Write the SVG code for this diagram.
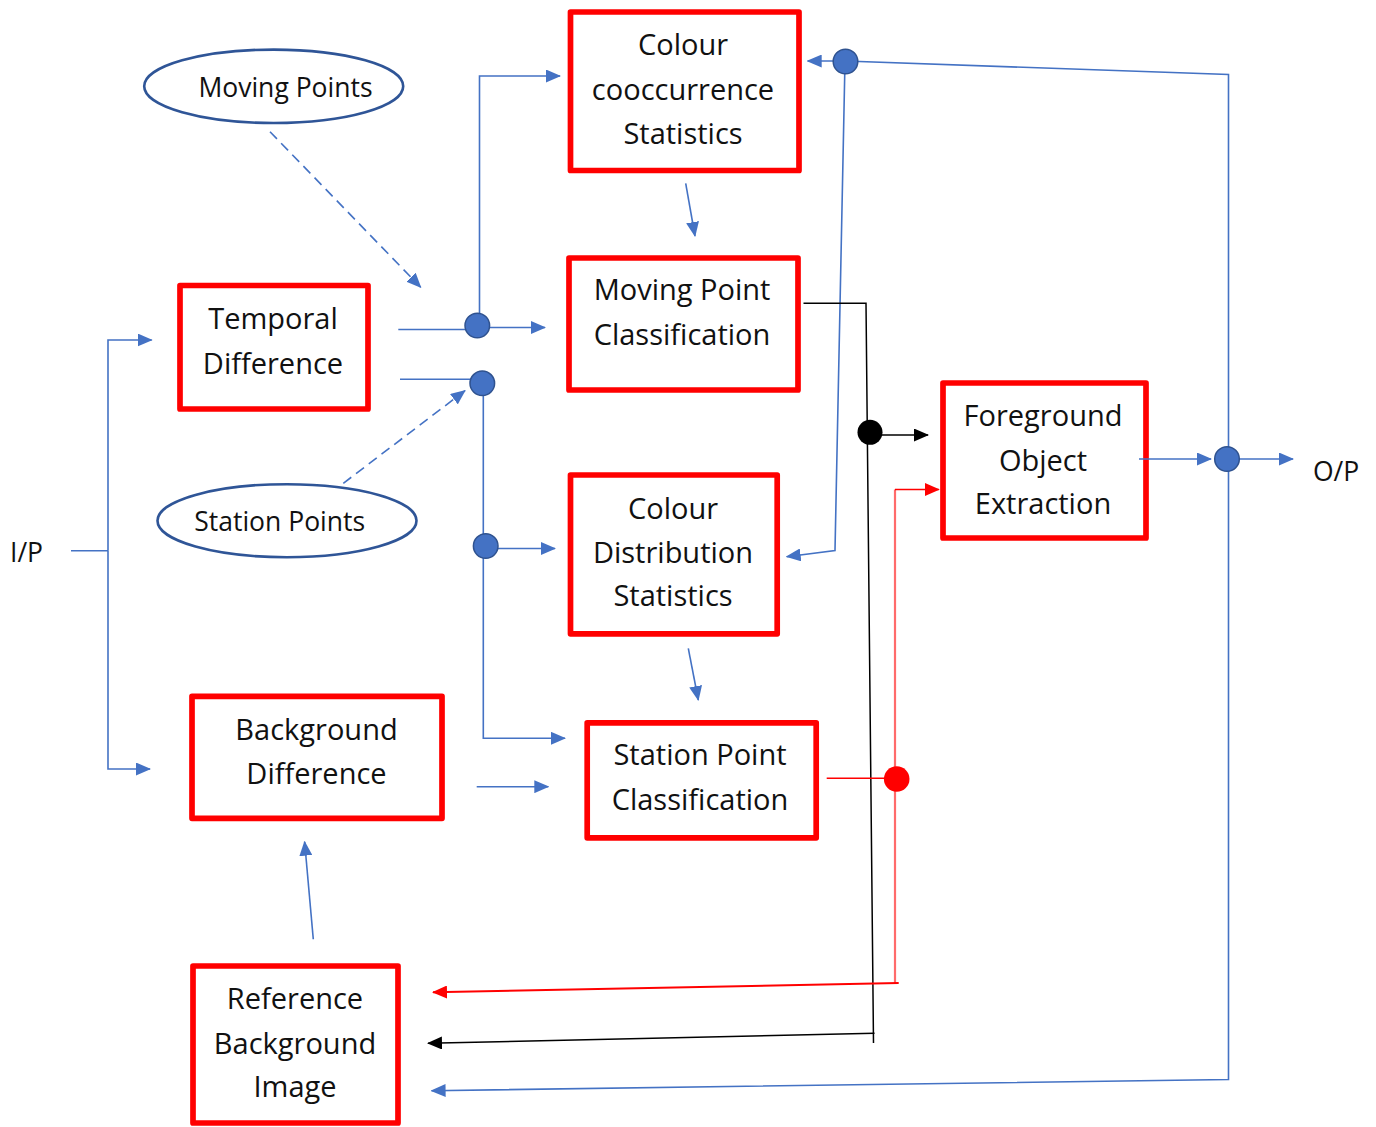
<svg xmlns="http://www.w3.org/2000/svg" width="1376" height="1127" viewBox="0 0 1376 1127">
  <style>
    .box{fill:#fff;stroke:#ff0000;stroke-width:5.7;stroke-linejoin:round}
    .ell{fill:#fff;stroke:#2f5597;stroke-width:2.6}
    .lbl{font-family:"Open Sans","Noto Sans","DejaVu Sans",sans-serif;font-size:29px;fill:#111;text-anchor:middle}
    .sm{font-size:26.5px}
    .io{font-family:"Open Sans","Noto Sans","DejaVu Sans",sans-serif;font-size:26.5px;fill:#111}
    .b{fill:none;stroke:#4472c4;stroke-width:1.6}
    .dash{stroke-dasharray:10 6}
    .k{fill:none;stroke:#000;stroke-width:1.5}
    .r{fill:none;stroke:#ff0000;stroke-width:1.6}
    .rl{fill:none;stroke:#ff6b6b;stroke-width:2.2}
    .dotb{fill:#4472c4;stroke:#2f528f;stroke-width:1.5}
  </style>
  <defs>
    <marker id="ab" markerUnits="userSpaceOnUse" viewBox="0 0 15 13" markerWidth="15" markerHeight="13" refX="14" refY="6.5" orient="auto">
      <path d="M0,0 L15,6.5 L0,13 z" fill="#4472c4"/>
    </marker>
    <marker id="ak" markerUnits="userSpaceOnUse" viewBox="0 0 15 13" markerWidth="15" markerHeight="13" refX="14" refY="6.5" orient="auto">
      <path d="M0,0 L15,6.5 L0,13 z" fill="#000"/>
    </marker>
    <marker id="ar" markerUnits="userSpaceOnUse" viewBox="0 0 15 13" markerWidth="15" markerHeight="13" refX="14" refY="6.5" orient="auto">
      <path d="M0,0 L15,6.5 L0,13 z" fill="#ff0000"/>
    </marker>
  </defs>

  <rect width="1376" height="1127" fill="#fff"/>

  <!-- processing blocks -->
  <g id="colour-cooccurrence">
    <rect class="box" x="570.5" y="12" width="228.5" height="158.5"/>
    <text class="lbl" x="683" y="55">Colour</text>
    <text class="lbl" x="683" y="99.5">cooccurrence</text>
    <text class="lbl" x="683" y="143.5">Statistics</text>
  </g>
  <g id="moving-point-classification">
    <rect class="box" x="569" y="258" width="229" height="132"/>
    <text class="lbl" x="682" y="300">Moving Point</text>
    <text class="lbl" x="682" y="345">Classification</text>
  </g>
  <g id="temporal-difference">
    <rect class="box" x="180" y="285.5" width="188" height="123.5"/>
    <text class="lbl" x="273" y="328.5">Temporal</text>
    <text class="lbl" x="273" y="373.5">Difference</text>
  </g>
  <g id="moving-points">
    <ellipse class="ell" cx="273.7" cy="86.3" rx="129.5" ry="36.7"/>
    <text class="lbl sm" x="285.5" y="97">Moving Points</text>
  </g>
  <g id="station-points">
    <ellipse class="ell" cx="287" cy="520.7" rx="129.5" ry="36.5"/>
    <text class="lbl sm" x="279.7" y="531">Station Points</text>
  </g>
  <g id="colour-distribution">
    <rect class="box" x="570.5" y="475" width="206.7" height="158.8"/>
    <text class="lbl" x="673" y="518.5">Colour</text>
    <text class="lbl" x="673" y="562.7">Distribution</text>
    <text class="lbl" x="673" y="605.5">Statistics</text>
  </g>
  <g id="background-difference">
    <rect class="box" x="192" y="696.3" width="250" height="122"/>
    <text class="lbl" x="316.5" y="740">Background</text>
    <text class="lbl" x="316.5" y="784">Difference</text>
  </g>
  <g id="station-point-classification">
    <rect class="box" x="587.2" y="722.8" width="229" height="115"/>
    <text class="lbl" x="700" y="765">Station Point</text>
    <text class="lbl" x="700" y="810">Classification</text>
  </g>
  <g id="foreground-object-extraction">
    <rect class="box" x="943" y="383" width="203" height="155"/>
    <text class="lbl" x="1043" y="426">Foreground</text>
    <text class="lbl" x="1043" y="470.5">Object</text>
    <text class="lbl" x="1043" y="514">Extraction</text>
  </g>
  <g id="reference-background-image">
    <rect class="box" x="193" y="966" width="205" height="157"/>
    <text class="lbl" x="295" y="1008.5">Reference</text>
    <text class="lbl" x="295" y="1053.5">Background</text>
    <text class="lbl" x="295" y="1096.5">Image</text>
  </g>
  <g id="input">
    <text class="io" x="10" y="561.5">I/P</text>
  </g>
  <g id="output">
    <text class="io" x="1313" y="480.5">O/P</text>
  </g>

  <!-- connectors -->
  <g id="connectors">
    <!-- input split -->
    <path class="b" d="M71,550.7 H108"/>
    <path class="b" d="M108,550.7 V340 H151.7" marker-end="url(#ab)"/>
    <path class="b" d="M108,550.7 V769 H150" marker-end="url(#ab)"/>

    <!-- temporal difference outputs -->
    <path class="b" d="M398.3,329.5 H477"/>
    <path class="b" d="M479.5,326 V76 H560" marker-end="url(#ab)"/>
    <path class="b" d="M477,327.5 H545" marker-end="url(#ab)"/>
    <path class="b" d="M400,379.3 H482"/>
    <path class="b" d="M483.3,383 V738.3 H565" marker-end="url(#ab)"/>
    <path class="b" d="M486,548.5 H555" marker-end="url(#ab)"/>

    <!-- point hints -->
    <path class="b dash" d="M270,131.7 L420.7,287.3" marker-end="url(#ab)"/>
    <path class="b dash" d="M343.3,483.3 L465,390.7" marker-end="url(#ab)"/>

    <!-- statistics to classification -->
    <path class="b" d="M685.7,183.3 L695,236" marker-end="url(#ab)"/>
    <path class="b" d="M688.3,648.3 L698.3,700" marker-end="url(#ab)"/>
    <path class="b" d="M476.7,786.7 H548.3" marker-end="url(#ab)"/>
    <path class="b" d="M313.3,939.3 L304.6,841.7" marker-end="url(#ab)"/>

    <!-- output feedback loop -->
    <path class="b" d="M845,61 L1228.5,74.5 V1079.5 L431.6,1090.7" marker-end="url(#ab)"/>
    <path class="b" d="M845,61 H807.7" marker-end="url(#ab)"/>
    <path class="b" d="M845,61 L835,550.5 L786.7,556.7" marker-end="url(#ab)"/>
    <path class="b" d="M1139,459 H1211" marker-end="url(#ab)"/>
    <path class="b" d="M1227,459 H1293" marker-end="url(#ab)"/>

    <!-- moving point result -->
    <path class="k" d="M803.5,303.3 H866 L873.5,1043"/>
    <path class="k" d="M870,435 H928" marker-end="url(#ak)"/>
    <path class="k" d="M874.5,1033.3 L428,1043.3" marker-end="url(#ak)"/>

    <!-- station point result -->
    <path class="rl" d="M895,489.5 V984"/>
    <path class="r" d="M826.7,778.3 H896.7"/>
    <path class="r" d="M895,489.5 H938.8" marker-end="url(#ar)"/>
    <path class="r" d="M898.7,983 L433,992.3" style="stroke-width:2" marker-end="url(#ar)"/>

    <!-- junctions -->
    <circle class="dotb" cx="477.3" cy="325.5" r="12.3"/>
    <circle class="dotb" cx="482.3" cy="383.3" r="12.3"/>
    <circle class="dotb" cx="485.7" cy="546" r="12.3"/>
    <circle class="dotb" cx="845.5" cy="61.5" r="12.3"/>
    <circle class="dotb" cx="1227" cy="459" r="12.3"/>
    <circle cx="870" cy="432.3" r="12.5" fill="#000"/>
    <circle cx="896.7" cy="779" r="12.8" fill="#ff0000"/>
  </g>
</svg>
